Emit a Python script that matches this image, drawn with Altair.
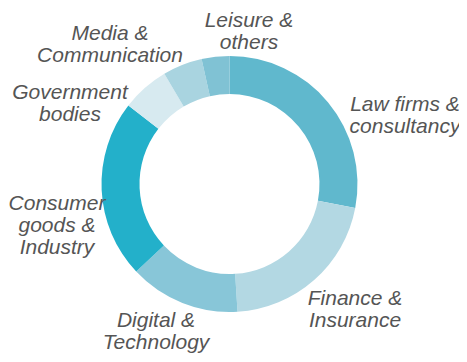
import altair as alt
import pandas as pd

# Data
categories = ["Law firms & consultancy", "Finance & Insurance", "Digital & Technology",
              "Consumer goods & Industry", "Government bodies", "Media & Communication",
              "Leisure & others"]
values = [28.0, 21.0, 14.0, 22.5, 6.0, 5.0, 3.5]
labels = ["Law firms &\nconsultancy", "Finance &\nInsurance", "Digital &\nTechnology",
          "Consumer\ngoods &\nIndustry", "Government\nbodies", "Media &\nCommunication",
          "Leisure &\nothers"]

# Styling / layout (kept apart from the data)
colors = ["#60b8cd", "#b3d8e3", "#88c6d8", "#23b0ca", "#d7eaf0", "#a9d4e0", "#80c2d4"]
label_x = [397, 347, 148, 49, 62, 102, 241]
label_y = [103, 297, 319, 202, 91, 32, 19]
cx, cy = 221.5, 176

df = pd.DataFrame({"cat": categories, "val": values, "idx": list(range(len(values)))})
lab = pd.DataFrame({"label": labels, "px": label_x, "py": label_y})

arc = alt.Chart(df).mark_arc(innerRadius=90, outerRadius=128, x=cx, y=cy).encode(
    theta=alt.Theta("val:Q", stack=True),
    order=alt.Order("idx:Q"),
    color=alt.Color("cat:N", scale=alt.Scale(domain=categories, range=colors), legend=None),
)

text = alt.Chart(lab).mark_text(
    font="Liberation Sans", fontSize=21, fontStyle="italic", color="#555555",
    align="center", baseline="alphabetic", lineBreak="\n", lineHeight=22,
).encode(
    x=alt.X("px:Q", scale=None),
    y=alt.Y("py:Q", scale=None),
    text="label:N",
)

chart = alt.layer(arc, text).properties(
    width=451, height=346,
    autosize=alt.AutoSizeParams(type="none"),
    padding=0,
).configure_view(stroke=None)

chart.save("out.html", embed_options={"renderer": "svg", "actions": False})
